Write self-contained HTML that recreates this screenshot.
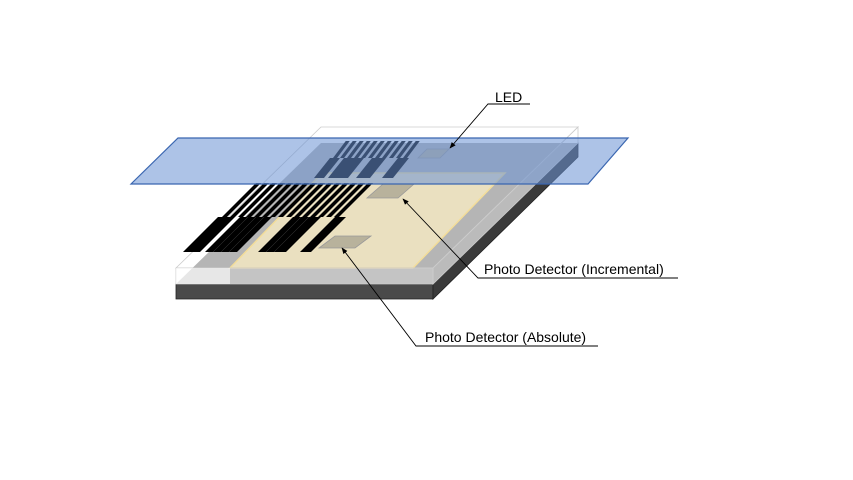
<!DOCTYPE html>
<html><head><style>body{margin:0;background:#fff}svg{display:block}</style></head>
<body>
<svg width="853" height="480" viewBox="0 0 853 480" xmlns="http://www.w3.org/2000/svg" font-family="Liberation Sans, sans-serif">
<defs>
<marker id="ar" viewBox="0 0 10 10" refX="9" refY="5" markerWidth="7" markerHeight="7" orient="auto"><path d="M0,1 L10,5 L0,9 z" fill="#000"/></marker>
</defs>
<polygon points="176,284 433,284 433,299 176,299" fill="#4a4a4a" stroke="#222" stroke-width="0.8"/>
<polygon points="433,284 578,143 578,157 433,299" fill="#3a3a3a" stroke="#222" stroke-width="0.8"/>
<polygon points="176,284 433,284 578,143 321,143" fill="#ababab"/>
<polygon points="230,268 413,268 505,173 322,173" fill="#e8dcb8" stroke="#f2d98c" stroke-width="1.5"/>
<polygon points="176,268 433,268 433,284 176,284" fill="rgba(255,255,255,0.3)" stroke="#ccc" stroke-width="0.8"/>
<polygon points="433,268 578,127 578,143 433,284" fill="rgba(255,255,255,0.2)" stroke="#ccc" stroke-width="0.8"/>
<polygon points="176,268 433,268 578,127 321,127" fill="rgba(255,255,255,0.12)" stroke="#ccc" stroke-width="0.8"/>
<polygon points="176,268 230,268 230,284 176,284" fill="#fff" opacity="0.6"/>
<polygon points="367,198 398,198 414,184 383,184" fill="#b8b29c" stroke="#999" stroke-width="0.8"/>
<polygon points="319,248 355,248 371,236 335,236" fill="#b8b29c" stroke="#999" stroke-width="0.8"/>
<g transform="matrix(1,0,-1,1,252,0)" fill="#000">
<rect x="183" y="217" width="17" height="35"/>
<rect x="205" y="217" width="32" height="35"/>
<rect x="258" y="217" width="28" height="35"/>
<rect x="300" y="217" width="11" height="35"/>
</g>
<g transform="matrix(1,0,-1,1,252,0)" stroke="#666" stroke-width="0.5" opacity="0.7">
<line x1="213" y1="217" x2="213" y2="252"/><line x1="221" y1="217" x2="221" y2="252"/><line x1="229" y1="217" x2="229" y2="252"/>
<line x1="266" y1="217" x2="266" y2="252"/><line x1="274" y1="217" x2="274" y2="252"/>
</g>
<g transform="matrix(1,0,-1,1,217,0)" fill="#000">
<rect x="222" y="183" width="5" height="34"/><rect x="230" y="183" width="5" height="34"/>
<rect x="238" y="183" width="5" height="34"/><rect x="246" y="183" width="5" height="34"/>
<rect x="254" y="183" width="5" height="34"/><rect x="262" y="183" width="5" height="34"/>
<rect x="270" y="183" width="5" height="34"/><rect x="278" y="183" width="5" height="34"/>
<rect x="286" y="183" width="5" height="34"/><rect x="294" y="183" width="5" height="34"/>
<rect x="302" y="183" width="5" height="34"/><rect x="310" y="183" width="5" height="34"/>
<rect x="318" y="183" width="5" height="34"/><rect x="326" y="183" width="5" height="34"/>
<rect x="334" y="183" width="5" height="34"/>
</g>
<g transform="matrix(1,0,-0.8,1,142.4,0)" fill="#000">
<rect x="314" y="158" width="10" height="20"/>
<rect x="328" y="158" width="20" height="20"/>
<rect x="356" y="158" width="14" height="20"/>
<rect x="382" y="158" width="11" height="20"/>
</g>
<g transform="matrix(1,0,-0.75,1,118.5,0)" fill="#000">
<rect x="333" y="141" width="4" height="17"/><rect x="340" y="141" width="4" height="17"/>
<rect x="347" y="141" width="4" height="17"/><rect x="354" y="141" width="4" height="17"/>
<rect x="361" y="141" width="4" height="17"/><rect x="368" y="141" width="4" height="17"/>
<rect x="375" y="141" width="4" height="17"/><rect x="382" y="141" width="4" height="17"/>
<rect x="389" y="141" width="4" height="17"/><rect x="396" y="141" width="4" height="17"/>
<rect x="403" y="141" width="4" height="17"/>
</g>
<polygon points="418,158 440,158 449,149 427,149" fill="#b8b29c" stroke="#999" stroke-width="0.8"/>
<polygon points="131,184 588,184 628,138 178,138" fill="rgba(105,145,212,0.55)" stroke="#3a66b0" stroke-width="1.2"/>
<g stroke="#000" stroke-width="0.9" fill="none">
<polyline points="530,104 488,104 450,148" marker-end="url(#ar)"/>
<polyline points="678,278 478,278 403,199" marker-end="url(#ar)"/>
<polyline points="598,346 416,346 342,248" marker-end="url(#ar)"/>
</g>
<g font-size="14" fill="#000">
<text x="495" y="102">LED</text>
<text x="484" y="274">Photo Detector (Incremental)</text>
<text x="425" y="342">Photo Detector (Absolute)</text>
</g>
</svg>
</body></html>
